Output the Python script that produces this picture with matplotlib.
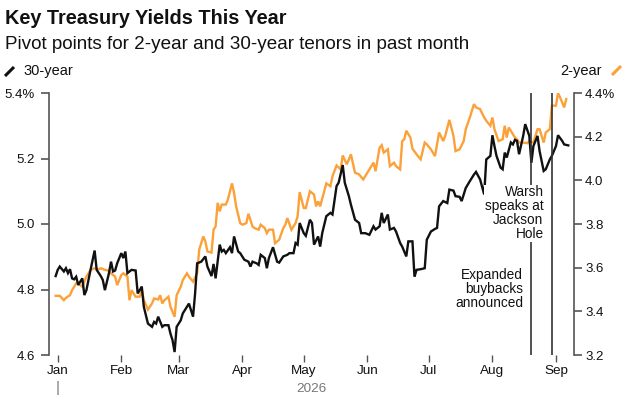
import pandas as pd
import matplotlib
matplotlib.use("Agg")
import matplotlib.pyplot as plt
import matplotlib.dates as mdates
from matplotlib.lines import Line2D
from matplotlib.ticker import FixedLocator, FuncFormatter

plt.rcParams['font.family'] = ['Liberation Sans', 'DejaVu Sans']

# 30-year yield (left axis, %)
dates_30y = [
    '2025-12-31', '2026-01-01', '2026-01-02', '2026-01-04', '2026-01-05', '2026-01-06', '2026-01-07', '2026-01-08', '2026-01-09', '2026-01-10',
    '2026-01-11', '2026-01-12', '2026-01-13', '2026-01-14', '2026-01-15', '2026-01-16', '2026-01-17', '2026-01-19', '2026-01-20', '2026-01-22',
    '2026-01-23', '2026-01-24', '2026-01-26', '2026-01-27', '2026-01-28', '2026-01-29', '2026-01-30', '2026-02-01', '2026-02-02', '2026-02-03',
    '2026-02-04', '2026-02-06', '2026-02-08', '2026-02-09', '2026-02-10', '2026-02-11', '2026-02-12', '2026-02-14', '2026-02-16', '2026-02-17',
    '2026-02-18', '2026-02-19', '2026-02-21', '2026-02-22', '2026-02-24', '2026-02-25', '2026-02-26', '2026-02-27', '2026-02-28', '2026-03-02',
    '2026-03-03', '2026-03-05', '2026-03-06', '2026-03-08', '2026-03-09', '2026-03-10', '2026-03-12', '2026-03-14', '2026-03-15', '2026-03-17',
    '2026-03-18', '2026-03-19', '2026-03-21', '2026-03-22', '2026-03-23', '2026-03-24', '2026-03-26', '2026-03-27', '2026-03-28', '2026-03-30',
    '2026-03-31', '2026-04-01', '2026-04-02', '2026-04-04', '2026-04-05', '2026-04-06', '2026-04-08', '2026-04-09', '2026-04-10', '2026-04-12',
    '2026-04-13', '2026-04-14', '2026-04-16', '2026-04-18', '2026-04-19', '2026-04-21', '2026-04-23', '2026-04-24', '2026-04-26', '2026-04-27',
    '2026-04-28', '2026-04-29', '2026-05-01', '2026-05-02', '2026-05-04', '2026-05-05', '2026-05-06', '2026-05-08',
    '2026-05-09', '2026-05-10', '2026-05-12', '2026-05-14', '2026-05-15', '2026-05-17', '2026-05-18', '2026-05-20', '2026-05-21', '2026-05-23',
    '2026-05-24', '2026-05-26', '2026-05-28', '2026-05-29', '2026-05-31', '2026-06-02', '2026-06-04', '2026-06-05', '2026-06-07', '2026-06-08',
    '2026-06-09', '2026-06-11', '2026-06-12', '2026-06-14', '2026-06-15', '2026-06-17', '2026-06-18', '2026-06-20', '2026-06-21', '2026-06-23',
    '2026-06-24', '2026-06-25', '2026-06-27', '2026-06-29', '2026-06-30', '2026-07-02', '2026-07-04', '2026-07-05', '2026-07-06', '2026-07-08',
    '2026-07-10', '2026-07-11', '2026-07-13', '2026-07-14', '2026-07-16', '2026-07-17', '2026-07-19', '2026-07-21', '2026-07-23', '2026-07-24',
    '2026-07-26', '2026-07-28', '2026-07-29', '2026-07-31', '2026-08-01', '2026-08-02', '2026-08-03', '2026-08-05', '2026-08-06', '2026-08-07',
    '2026-08-08', '2026-08-10', '2026-08-11', '2026-08-12', '2026-08-13', '2026-08-14', '2026-08-16', '2026-08-17', '2026-08-19', '2026-08-20',
    '2026-08-21', '2026-08-23', '2026-08-24', '2026-08-26', '2026-08-27', '2026-08-29', '2026-08-30', '2026-09-01', '2026-09-02', '2026-09-04',
    '2026-09-05', '2026-09-07',
]
yield_30y = [
    4.841, 4.860, 4.870, 4.855, 4.865, 4.850, 4.862, 4.834, 4.831, 4.839,
    4.814, 4.824, 4.834, 4.783, 4.798, 4.829, 4.860, 4.919, 4.860, 4.841,
    4.829, 4.798, 4.850, 4.885, 4.855, 4.858, 4.880, 4.911, 4.896, 4.916,
    4.850, 4.860, 4.858, 4.788, 4.798, 4.809, 4.747, 4.696, 4.686, 4.701,
    4.696, 4.717, 4.686, 4.691, 4.691, 4.665, 4.645, 4.609, 4.686, 4.706,
    4.727, 4.747, 4.757, 4.717, 4.788, 4.880, 4.885, 4.901, 4.870, 4.841,
    4.878, 4.834, 4.937, 4.916, 4.921, 4.911, 4.929, 4.911, 4.962, 4.916,
    4.911, 4.901, 4.891, 4.885, 4.870, 4.885, 4.880, 4.875, 4.906, 4.896,
    4.865, 4.896, 4.929, 4.885, 4.882, 4.901, 4.906, 4.911, 4.911, 4.942,
    4.937, 5.003, 4.972, 4.964, 5.013, 5.003, 4.937, 4.962,
    4.931, 4.972, 5.024, 5.034, 5.029, 5.116, 5.126, 5.180, 5.126, 5.085,
    5.059, 5.013, 5.003, 4.972, 4.972, 4.967, 4.993, 4.983, 4.993, 5.034,
    5.003, 5.029, 4.983, 4.988, 4.977, 4.942, 4.931, 4.901, 4.947, 4.947,
    4.839, 4.860, 4.862, 4.865, 4.952, 4.977, 4.985, 4.988, 5.054, 5.070,
    5.064, 5.105, 5.102, 5.085, 5.083, 5.070, 5.110, 5.131, 5.151, 5.159,
    5.136, 5.090, 5.197, 5.208, 5.271, 5.238, 5.208, 5.172, 5.167, 5.218,
    5.203, 5.249, 5.243, 5.257, 5.254, 5.213, 5.269, 5.305, 5.269, 5.187,
    5.238, 5.269, 5.223, 5.162, 5.167, 5.197, 5.208, 5.238, 5.271, 5.254,
    5.243, 5.240,
]

# 2-year yield (right axis, %)
dates_2y = [
    '2025-12-31', '2026-01-02', '2026-01-04', '2026-01-05', '2026-01-07', '2026-01-08', '2026-01-10', '2026-01-12', '2026-01-13', '2026-01-15',
    '2026-01-16', '2026-01-17', '2026-01-19', '2026-01-21', '2026-01-22', '2026-01-24', '2026-01-26', '2026-01-27', '2026-01-29', '2026-01-30',
    '2026-02-01', '2026-02-02', '2026-02-04', '2026-02-05', '2026-02-06', '2026-02-08', '2026-02-10', '2026-02-11', '2026-02-12', '2026-02-14',
    '2026-02-16', '2026-02-17', '2026-02-19', '2026-02-20', '2026-02-21', '2026-02-22', '2026-02-24', '2026-02-25', '2026-02-27', '2026-02-28',
    '2026-03-02', '2026-03-03', '2026-03-05', '2026-03-06', '2026-03-08', '2026-03-10', '2026-03-11', '2026-03-13', '2026-03-14', '2026-03-15',
    '2026-03-17', '2026-03-18', '2026-03-19', '2026-03-20', '2026-03-21', '2026-03-22', '2026-03-24', '2026-03-25', '2026-03-27', '2026-03-28',
    '2026-03-29', '2026-03-31', '2026-04-01', '2026-04-03', '2026-04-04', '2026-04-06', '2026-04-07', '2026-04-09', '2026-04-10', '2026-04-12',
    '2026-04-13', '2026-04-14', '2026-04-16', '2026-04-17', '2026-04-19', '2026-04-21', '2026-04-22', '2026-04-23', '2026-04-25', '2026-04-27',
    '2026-04-28', '2026-04-29', '2026-05-01', '2026-05-02', '2026-05-04', '2026-05-06', '2026-05-07', '2026-05-08',
    '2026-05-09', '2026-05-11', '2026-05-12', '2026-05-14', '2026-05-15', '2026-05-17', '2026-05-19', '2026-05-20', '2026-05-22', '2026-05-23',
    '2026-05-24', '2026-05-26', '2026-05-28', '2026-05-30', '2026-06-01', '2026-06-02', '2026-06-04', '2026-06-05', '2026-06-07', '2026-06-08',
    '2026-06-09', '2026-06-11', '2026-06-12', '2026-06-14', '2026-06-15', '2026-06-17', '2026-06-18', '2026-06-19', '2026-06-20', '2026-06-22',
    '2026-06-23', '2026-06-25', '2026-06-27', '2026-06-29', '2026-06-30', '2026-07-02', '2026-07-04', '2026-07-05', '2026-07-06', '2026-07-08',
    '2026-07-09', '2026-07-11', '2026-07-13', '2026-07-14', '2026-07-16', '2026-07-18', '2026-07-19', '2026-07-21', '2026-07-23', '2026-07-24',
    '2026-07-26', '2026-07-28', '2026-07-29', '2026-07-31', '2026-08-01', '2026-08-02', '2026-08-04', '2026-08-06', '2026-08-07', '2026-08-08',
    '2026-08-09', '2026-08-11', '2026-08-12', '2026-08-13', '2026-08-14', '2026-08-16', '2026-08-18', '2026-08-19', '2026-08-21', '2026-08-23',
    '2026-08-24', '2026-08-26', '2026-08-27', '2026-08-29', '2026-08-30', '2026-09-01', '2026-09-02', '2026-09-03', '2026-09-05', '2026-09-06',
]
yield_2y = [
    3.471, 3.471, 3.451, 3.462, 3.474, 3.497, 3.528, 3.520, 3.513, 3.559,
    3.574, 3.590, 3.597, 3.593, 3.597, 3.590, 3.586, 3.574, 3.559, 3.520,
    3.566, 3.574, 3.559, 3.451, 3.497, 3.467, 3.467, 3.497, 3.451, 3.408,
    3.436, 3.459, 3.454, 3.474, 3.436, 3.451, 3.467, 3.421, 3.375, 3.474,
    3.513, 3.543, 3.574, 3.559, 3.536, 3.574, 3.682, 3.743, 3.720, 3.674,
    3.669, 3.774, 3.789, 3.897, 3.858, 3.889, 3.889, 3.912, 3.986, 3.943,
    3.881, 3.804, 3.797, 3.804, 3.847, 3.789, 3.781, 3.774, 3.797, 3.781,
    3.758, 3.774, 3.774, 3.712, 3.728, 3.781, 3.797, 3.827, 3.774, 3.804,
    3.835, 3.946, 3.873, 3.873, 3.950, 3.935, 3.881, 3.904,
    3.881, 3.950, 3.986, 3.973, 4.019, 4.068, 4.050, 4.114, 4.073, 4.096,
    4.119, 4.035, 4.027, 4.004, 4.035, 4.050, 4.081, 4.042, 4.150, 4.161,
    4.127, 4.142, 4.065, 4.081, 4.065, 4.050, 4.180, 4.188, 4.227, 4.196,
    4.145, 4.119, 4.096, 4.173, 4.165, 4.142, 4.111, 4.165, 4.219, 4.180,
    4.204, 4.277, 4.204, 4.134, 4.142, 4.180, 4.234, 4.288, 4.349, 4.334,
    4.326, 4.288, 4.273, 4.250, 4.288, 4.234, 4.180, 4.188, 4.250, 4.196,
    4.242, 4.211, 4.196, 4.188, 4.173, 4.173, 4.170, 4.180, 4.173, 4.234,
    4.234, 4.173, 4.219, 4.234, 4.342, 4.342, 4.400, 4.380, 4.334, 4.372,
]

left_ticks = [4.6, 4.8, 5.0, 5.2, 5.4]
right_ticks = [3.2, 3.4, 3.6, 3.8, 4.0, 4.2, 4.4]

event_dates = ['2026-08-20', '2026-08-30']
event_labels = ['Expanded\nbuybacks\nannounced', 'Warsh\nspeaks at\nJackson\nHole']

ORANGE = '#FCA139'
DARK = '#111111'
AXIS = '#555555'

d30 = pd.to_datetime(dates_30y)
d2 = pd.to_datetime(dates_2y)

fig = plt.figure(figsize=(6.27, 4.0), dpi=100)
ax = fig.add_axes([49 / 627, 1 - 355 / 400, 525 / 627, 262 / 400])
ax2 = ax.twinx()
ax.set_zorder(ax2.get_zorder() + 1)
ax.patch.set_visible(False)

ax2.plot(d2, yield_2y, color=ORANGE, lw=1.7, solid_joinstyle='miter')
ax.plot(d30, yield_30y, color=DARK, lw=1.7, solid_joinstyle='miter')

ax.set_xlim(pd.Timestamp('2025-12-27 18:00'), pd.Timestamp('2026-09-09 19:00'))
ax.set_ylim(4.6, 5.4)
ax2.set_ylim(3.2, 4.4)

# event lines + notes
for d, lab, dy in zip(event_dates, event_labels, [0.333, 0.647]):
    ax.axvline(pd.Timestamp(d), color='#333333', lw=1.2, zorder=3)
    ax.annotate(lab, xy=(pd.Timestamp(d), dy), xycoords=('data', 'axes fraction'),
                xytext=(-6, 0), textcoords='offset points', ha='right', va='top',
                fontsize=9.8, color=DARK, linespacing=1.0, zorder=4,
                bbox=dict(boxstyle='square,pad=0.05', fc='white', ec='none'))

for a in (ax, ax2):
    a.spines['top'].set_visible(False)
    a.spines['bottom'].set_visible(False)

ax.spines['right'].set_visible(False)
ax.spines['left'].set_color(AXIS)
ax.spines['left'].set_linewidth(1.2)
ax2.spines['left'].set_visible(False)
ax2.spines['right'].set_color(AXIS)
ax2.spines['right'].set_linewidth(1.2)

ax.yaxis.set_major_locator(FixedLocator(left_ticks))
ax.yaxis.set_major_formatter(FuncFormatter(lambda v, p: f'{v:.1f}%' if v == left_ticks[-1] else f'{v:.1f}'))
ax2.yaxis.set_major_locator(FixedLocator(right_ticks))
ax2.yaxis.set_major_formatter(FuncFormatter(lambda v, p: f'{v:.1f}%' if v == right_ticks[-1] else f'{v:.1f}'))

ax.tick_params(axis='y', direction='out', length=6, width=1.2, color=AXIS, pad=4,
               labelsize=9.5, labelcolor=DARK)
ax2.tick_params(axis='y', direction='out', length=6, width=1.2, color=AXIS, pad=2,
                labelsize=9.5, labelcolor=DARK)

ax.xaxis.set_major_locator(mdates.MonthLocator())
ax.xaxis.set_major_formatter(mdates.DateFormatter('%b'))
ax.tick_params(axis='x', direction='out', length=5, width=1, color=AXIS, pad=2,
               labelsize=9.7, labelcolor=DARK)

# year marker under the axis
sec = ax.secondary_xaxis(-0.1)
sec.xaxis.set_major_locator(FixedLocator([mdates.date2num(pd.Timestamp('2026-01-01'))]))
sec.xaxis.set_major_formatter(FuncFormatter(lambda v, p: ''))
sec.spines['bottom'].set_visible(False)
sec.tick_params(axis='x', direction='out', length=10, width=1.4, color='#aaaaaa')
fig.text(311 / 627, 1 - 392 / 400, '2026', ha='center', va='baseline', fontsize=9.7, color='#777777')

# titles
fig.text(5 / 627, 1 - 23.5 / 400, 'Key Treasury Yields This Year', fontsize=14.3, fontweight='bold',
         color=DARK, va='baseline', ha='left')
fig.text(5 / 627, 1 - 49 / 400, 'Pivot points for 2-year and 30-year tenors in past month', fontsize=13.6,
         color=DARK, va='baseline', ha='left')

# legend keys
fig.add_artist(Line2D([5 / 627, 14 / 627], [1 - 76 / 400, 1 - 67 / 400], transform=fig.transFigure,
                      color=DARK, lw=2.2, solid_capstyle='butt'))
fig.text(23 / 627, 1 - 75 / 400, '30-year', fontsize=10.5, color=DARK, va='baseline', ha='left')
fig.add_artist(Line2D([612 / 627, 621 / 627], [1 - 75 / 400, 1 - 66 / 400], transform=fig.transFigure,
                      color=ORANGE, lw=2.2, solid_capstyle='butt'))
fig.text(602 / 627, 1 - 75 / 400, '2-year', fontsize=10.5, color=DARK, va='baseline', ha='right')

fig.savefig('out.png', dpi=100)
